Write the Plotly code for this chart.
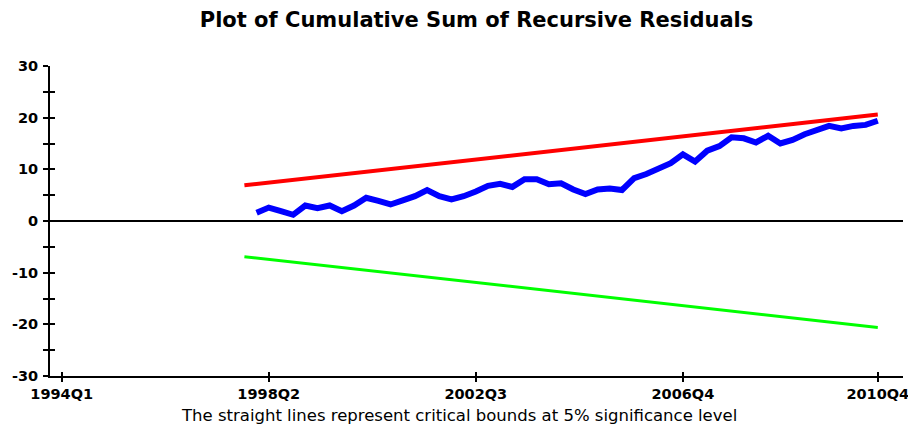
import plotly.graph_objects as go

# Quarterly categories 1994Q1 .. 2010Q4
quarters = [f"{y}Q{q}" for y in range(1994, 2011) for q in range(1, 5)]

tick_labels = ["1994Q1", "1998Q2", "2002Q3", "2006Q4", "2010Q4"]

# CUSUM series, 1998Q1 .. 2010Q4
cusum_start = "1998Q1"
cusum = [1.6, 2.6, 1.9, 1.2, 3.0, 2.5, 3.0, 1.9, 3.0, 4.5,
         3.9, 3.2, 4.0, 4.8, 6.0, 4.8, 4.2, 4.8, 5.7, 6.8,
         7.2, 6.6, 8.1, 8.1, 7.1, 7.3, 6.1, 5.2, 6.1, 6.3,
         6.0, 8.3, 9.1, 10.2, 11.2, 12.9, 11.5, 13.6, 14.5, 16.2,
         16.0, 15.2, 16.5, 15.0, 15.7, 16.8, 17.6, 18.4, 17.9, 18.4,
         18.6, 19.4]

# 5% critical bounds (straight lines): endpoints
bound_quarters = ["1997Q4", "2010Q4"]
upper_bound = [6.9, 20.6]
lower_bound = [-6.9, -20.6]

y_ticks = [-30, -25, -20, -15, -10, -5, 0, 5, 10, 15, 20, 25, 30]
y_ticktext = ["-30", "", "-20", "", "-10", "", "0", "", "10", "", "20", "", "30"]

idx = {q: i for i, q in enumerate(quarters)}
s0 = idx[cusum_start]
cusum_x = list(range(s0, s0 + len(cusum)))
bound_x = [idx[q] for q in bound_quarters]
tick_x = [idx[q] for q in tick_labels]

fig = go.Figure()
fig.add_trace(go.Scatter(x=bound_x, y=upper_bound, mode="lines",
                         line=dict(color="#FF0000", width=4), showlegend=False))
fig.add_trace(go.Scatter(x=bound_x, y=lower_bound, mode="lines",
                         line=dict(color="#00FF00", width=3), showlegend=False))
fig.add_trace(go.Scatter(x=cusum_x, y=cusum, mode="lines",
                         line=dict(color="#0000FF", width=6), showlegend=False))
# empty trace to instantiate overlay axes (for crossing ticks)
fig.add_trace(go.Scatter(x=[], y=[], xaxis="x2", yaxis="y2", showlegend=False))

xr = [-0.96, 69.07]
yr = [-30, 30]
tickfont = dict(family="DejaVu Sans", size=14.5, color="black", weight="bold")

W, H = 908, 428
fig.update_layout(
    width=W, height=H,
    margin=dict(l=42, r=13, t=58, b=60, autoexpand=False),
    plot_bgcolor="white", paper_bgcolor="white",
    title=dict(text="<b>Plot of Cumulative Sum of Recursive Residuals</b>",
               font=dict(family="DejaVu Sans", size=21, color="black"),
               x=0.5, xref="paper", xanchor="center",
               y=1 - 4 / H, yref="container", yanchor="top",
               pad=dict(t=0, b=0, l=0, r=0)),
    xaxis=dict(range=xr, tickmode="array", tickvals=tick_x, ticktext=tick_labels,
               ticks="outside", ticklen=4, tickwidth=2, tickcolor="black",
               showline=True, linecolor="black", linewidth=2,
               showgrid=False, zeroline=False, tickfont=tickfont,
               fixedrange=True, automargin=False),
    yaxis=dict(range=yr, tickmode="array", tickvals=y_ticks, ticktext=y_ticktext,
               ticks="outside", ticklen=5, tickwidth=2, tickcolor="black",
               showline=True, linecolor="black", linewidth=2,
               showgrid=False, zeroline=True, zerolinecolor="black", zerolinewidth=2,
               tickfont=tickfont, ticklabelstandoff=2, automargin=False),
    xaxis2=dict(range=xr, overlaying="x", anchor="y2", side="bottom",
                tickmode="array", tickvals=tick_x, ticks="inside", ticklen=4,
                tickwidth=2, tickcolor="black", showticklabels=False,
                showline=False, showgrid=False, zeroline=False),
    yaxis2=dict(range=yr, overlaying="y", anchor="x2", side="left",
                tickmode="array", tickvals=y_ticks, ticks="inside", ticklen=5,
                tickwidth=2, tickcolor="black", showticklabels=False,
                showline=False, showgrid=False, zeroline=False),
    annotations=[dict(text="The straight lines represent critical bounds at 5% significance level",
                      xref="paper", yref="paper", x=0.48, y=-0.126,
                      xanchor="center", yanchor="middle", showarrow=False,
                      font=dict(family="DejaVu Sans", size=16.5, color="black"))],
)

fig.write_html("out.html")
